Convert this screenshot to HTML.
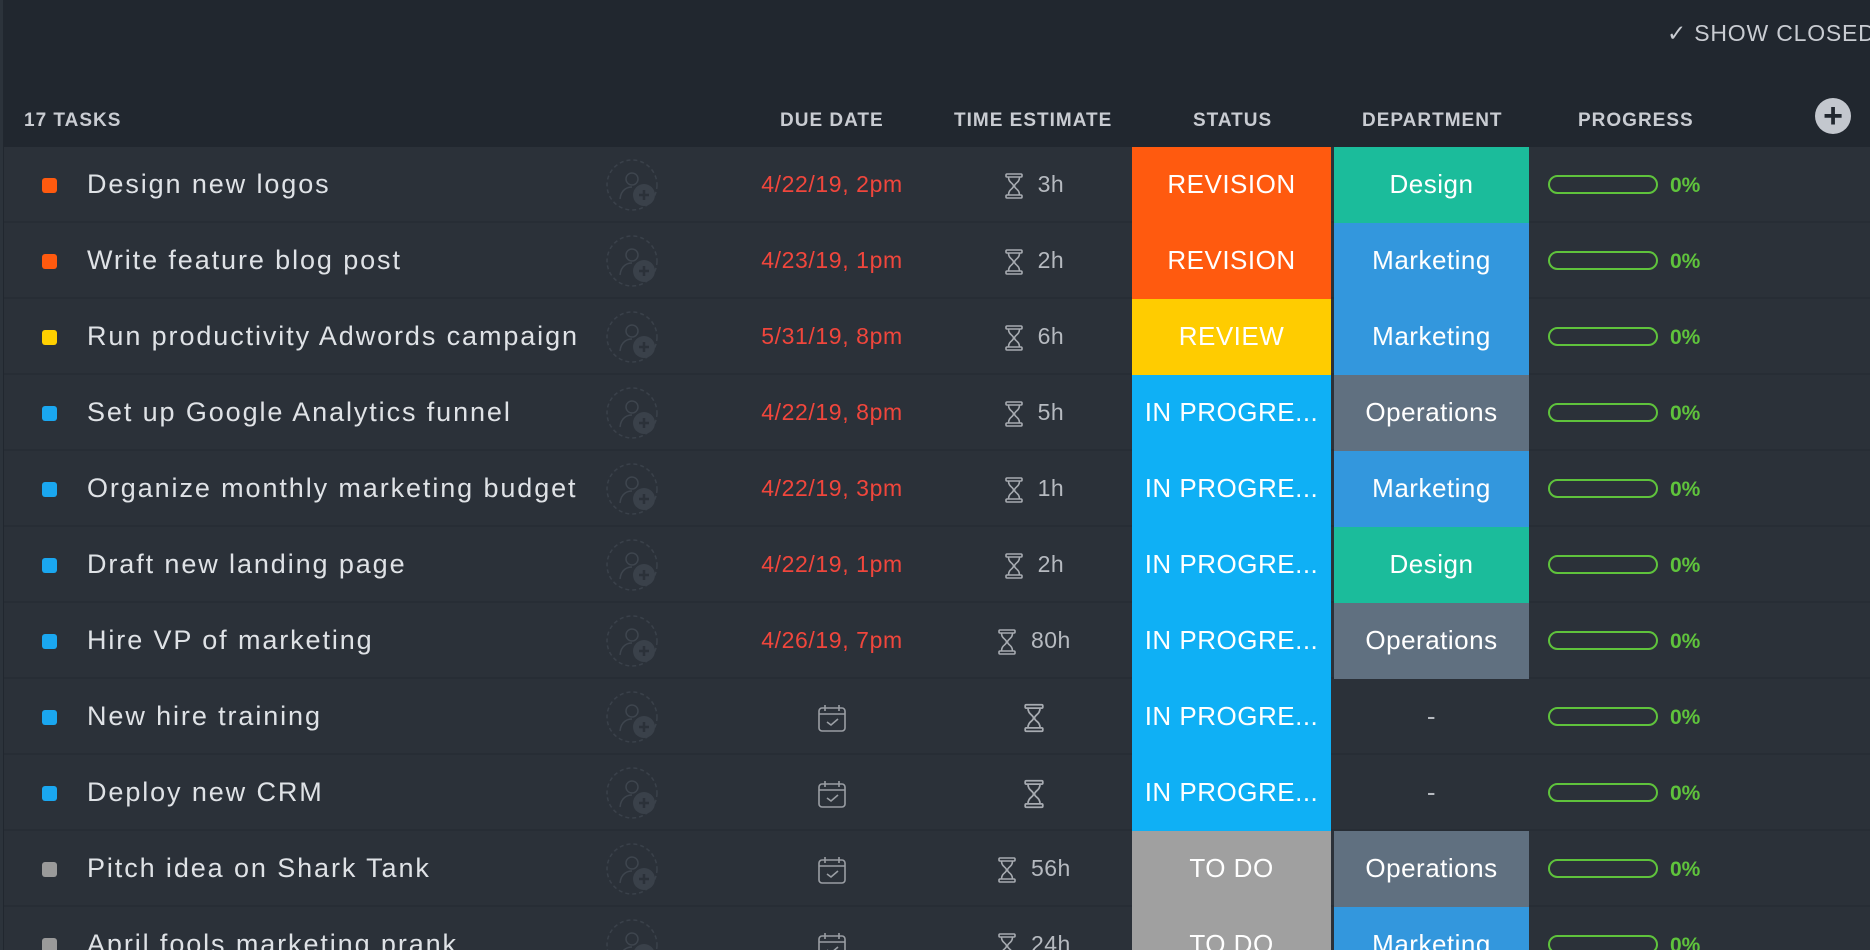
<!DOCTYPE html>
<html><head><meta charset="utf-8"><style>
*{margin:0;padding:0;box-sizing:border-box}
html,body{width:1870px;height:950px;overflow:hidden;background:#21272f}
body{font-family:"Liberation Sans",sans-serif}
#w{position:relative;width:1870px;height:950px;overflow:hidden}
.lb{position:absolute;left:0;top:0;width:3px;height:950px;background:#2c333b}
.hd{position:absolute;top:110px;font-size:19px;font-weight:bold;color:#c9ccd2;letter-spacing:1px}
.sc{position:absolute;left:1667px;top:20px;font-size:23px;color:#c9ccd2;letter-spacing:0.8px;white-space:nowrap}
.plus{position:absolute;left:1815px;top:98px;width:36px;height:36px;border-radius:50%;background:#c3c7ce;color:#21272f;font-size:34px;font-weight:bold;line-height:36px;text-align:center}
.row{position:absolute;left:4px;width:1866px;height:76px;background:#2b3139;border-bottom:2px solid #272d35}
.sq{position:absolute;left:38px;top:31px;width:15px;height:15px;border-radius:3px}
.tt{position:absolute;left:83px;top:0;line-height:74px;font-size:27px;color:#dfe2e6;letter-spacing:1.9px;white-space:nowrap}
.av{position:absolute;left:600px;top:10px}
.dd{position:absolute;left:728px;width:200px;text-align:center;line-height:74px;font-size:23px;color:#f0463c;letter-spacing:0.6px}
.te{position:absolute;left:930px;width:200px;text-align:center;line-height:74px;font-size:23px;color:#b6bac0;letter-spacing:0.5px}
.te svg,.dd svg{vertical-align:middle}
.st{position:absolute;left:1128px;width:199px;top:0;height:76px;line-height:74px;text-align:center;font-size:26px;color:#fff;letter-spacing:0.5px}
.dp{position:absolute;left:1330px;width:195px;top:0;height:76px;line-height:74px;text-align:center;font-size:26px;color:#fff;letter-spacing:0.5px}
.pb{position:absolute;left:1544px;top:28px;width:110px;height:19px;border:2px solid #5fc33c;border-radius:10px}
.pc{position:absolute;left:1666px;top:2px;line-height:74px;font-size:21px;color:#5fc33c;font-weight:bold}
.rv{background:#ff5a0f}.rw{background:#ffcc00}.ip{background:#0fb0f5}.td{background:#a0a0a0}
.de{background:#1bbc9b}.mk{background:#3397dd}.op{background:#607080}
</style></head><body><div id="w">
<div class="lb"></div>
<div class="sc">✓ SHOW CLOSED</div>
<div class="hd" style="left:24px">17 TASKS</div>
<div class="hd" style="left:780px">DUE DATE</div>
<div class="hd" style="left:954px">TIME ESTIMATE</div>
<div class="hd" style="left:1193px">STATUS</div>
<div class="hd" style="left:1362px">DEPARTMENT</div>
<div class="hd" style="left:1578px">PROGRESS</div>
<div class="plus">+</div>

<svg width="0" height="0" style="position:absolute"><defs>
<symbol id="av" viewBox="0 0 56 56"><circle cx="28" cy="28" r="25" fill="none" stroke="#3a414a" stroke-width="1.5" stroke-dasharray="4 3"/><circle cx="28" cy="22" r="6" fill="none" stroke="#3e454e" stroke-width="1.5"/><path d="M16 42 C17 32 24 30 28 30" fill="none" stroke="#3e454e" stroke-width="1.5"/><circle cx="40" cy="38" r="11" fill="#3a414a"/><path d="M40 33v10M35 38h10" stroke="#2b3139" stroke-width="2.5"/></symbol>
<symbol id="hg" viewBox="0 0 20 26"><rect x="2" y="1" width="16" height="3" rx="1" fill="none" stroke="#a7abb1" stroke-width="1.6"/><rect x="2" y="22" width="16" height="3" rx="1" fill="none" stroke="#a7abb1" stroke-width="1.6"/><path d="M4.5 4c0 6 5 6 5 9s-5 3-5 9M15.5 4c0 6-5 6-5 9s5 3 5 9" fill="none" stroke="#a7abb1" stroke-width="1.6"/></symbol>
<symbol id="cal" viewBox="0 0 30 30"><rect x="2" y="5" width="26" height="23" rx="3" fill="none" stroke="#9a9ea4" stroke-width="1.6"/><path d="M2 11h26M8 2v6M22 2v6M10 19l4 3 7-6" fill="none" stroke="#9a9ea4" stroke-width="1.6"/></symbol>
</defs></svg>

<div class="row" style="top:147px"><div class="sq rv"></div><div class="tt">Design new logos</div><svg class="av" width="56" height="56"><use href="#av"/></svg><div class="dd">4/22/19, 2pm</div><div class="te"><svg width="20" height="26"><use href="#hg"/></svg>&nbsp; 3h</div><div class="st rv">REVISION</div><div class="dp de">Design</div><div class="pb"></div><div class="pc">0%</div></div>

<div class="row" style="top:223px"><div class="sq rv"></div><div class="tt">Write feature blog post</div><svg class="av" width="56" height="56"><use href="#av"/></svg><div class="dd">4/23/19, 1pm</div><div class="te"><svg width="20" height="26"><use href="#hg"/></svg>&nbsp; 2h</div><div class="st rv">REVISION</div><div class="dp mk">Marketing</div><div class="pb"></div><div class="pc">0%</div></div>

<div class="row" style="top:299px"><div class="sq" style="background:#ffd000"></div><div class="tt">Run productivity Adwords campaign</div><svg class="av" width="56" height="56"><use href="#av"/></svg><div class="dd">5/31/19, 8pm</div><div class="te"><svg width="20" height="26"><use href="#hg"/></svg>&nbsp; 6h</div><div class="st rw">REVIEW</div><div class="dp mk">Marketing</div><div class="pb"></div><div class="pc">0%</div></div>

<div class="row" style="top:375px"><div class="sq" style="background:#1aa7f0"></div><div class="tt">Set up Google Analytics funnel</div><svg class="av" width="56" height="56"><use href="#av"/></svg><div class="dd">4/22/19, 8pm</div><div class="te"><svg width="20" height="26"><use href="#hg"/></svg>&nbsp; 5h</div><div class="st ip">IN PROGRE...</div><div class="dp op">Operations</div><div class="pb"></div><div class="pc">0%</div></div>

<div class="row" style="top:451px"><div class="sq" style="background:#1aa7f0"></div><div class="tt">Organize monthly marketing budget</div><svg class="av" width="56" height="56"><use href="#av"/></svg><div class="dd">4/22/19, 3pm</div><div class="te"><svg width="20" height="26"><use href="#hg"/></svg>&nbsp; 1h</div><div class="st ip">IN PROGRE...</div><div class="dp mk">Marketing</div><div class="pb"></div><div class="pc">0%</div></div>

<div class="row" style="top:527px"><div class="sq" style="background:#1aa7f0"></div><div class="tt">Draft new landing page</div><svg class="av" width="56" height="56"><use href="#av"/></svg><div class="dd">4/22/19, 1pm</div><div class="te"><svg width="20" height="26"><use href="#hg"/></svg>&nbsp; 2h</div><div class="st ip">IN PROGRE...</div><div class="dp de">Design</div><div class="pb"></div><div class="pc">0%</div></div>

<div class="row" style="top:603px"><div class="sq" style="background:#1aa7f0"></div><div class="tt">Hire VP of marketing</div><svg class="av" width="56" height="56"><use href="#av"/></svg><div class="dd">4/26/19, 7pm</div><div class="te"><svg width="20" height="26"><use href="#hg"/></svg>&nbsp; 80h</div><div class="st ip">IN PROGRE...</div><div class="dp op">Operations</div><div class="pb"></div><div class="pc">0%</div></div>

<div class="row" style="top:679px"><div class="sq" style="background:#1aa7f0"></div><div class="tt">New hire training</div><svg class="av" width="56" height="56"><use href="#av"/></svg><div class="dd"><svg width="30" height="30"><use href="#cal"/></svg></div><div class="te"><svg width="22" height="30"><use href="#hg"/></svg></div><div class="st ip">IN PROGRE...</div><div class="dp" style="color:#b6bac0">-</div><div class="pb"></div><div class="pc">0%</div></div>

<div class="row" style="top:755px"><div class="sq" style="background:#1aa7f0"></div><div class="tt">Deploy new CRM</div><svg class="av" width="56" height="56"><use href="#av"/></svg><div class="dd"><svg width="30" height="30"><use href="#cal"/></svg></div><div class="te"><svg width="22" height="30"><use href="#hg"/></svg></div><div class="st ip">IN PROGRE...</div><div class="dp" style="color:#b6bac0">-</div><div class="pb"></div><div class="pc">0%</div></div>

<div class="row" style="top:831px"><div class="sq" style="background:#9a9a9a"></div><div class="tt">Pitch idea on Shark Tank</div><svg class="av" width="56" height="56"><use href="#av"/></svg><div class="dd"><svg width="30" height="30"><use href="#cal"/></svg></div><div class="te"><svg width="20" height="26"><use href="#hg"/></svg>&nbsp; 56h</div><div class="st td">TO DO</div><div class="dp op">Operations</div><div class="pb"></div><div class="pc">0%</div></div>

<div class="row" style="top:907px"><div class="sq" style="background:#9a9a9a"></div><div class="tt">April fools marketing prank</div><svg class="av" width="56" height="56"><use href="#av"/></svg><div class="dd"><svg width="30" height="30"><use href="#cal"/></svg></div><div class="te"><svg width="20" height="26"><use href="#hg"/></svg>&nbsp; 24h</div><div class="st td">TO DO</div><div class="dp mk">Marketing</div><div class="pb"></div><div class="pc">0%</div></div>
</div></body></html>
